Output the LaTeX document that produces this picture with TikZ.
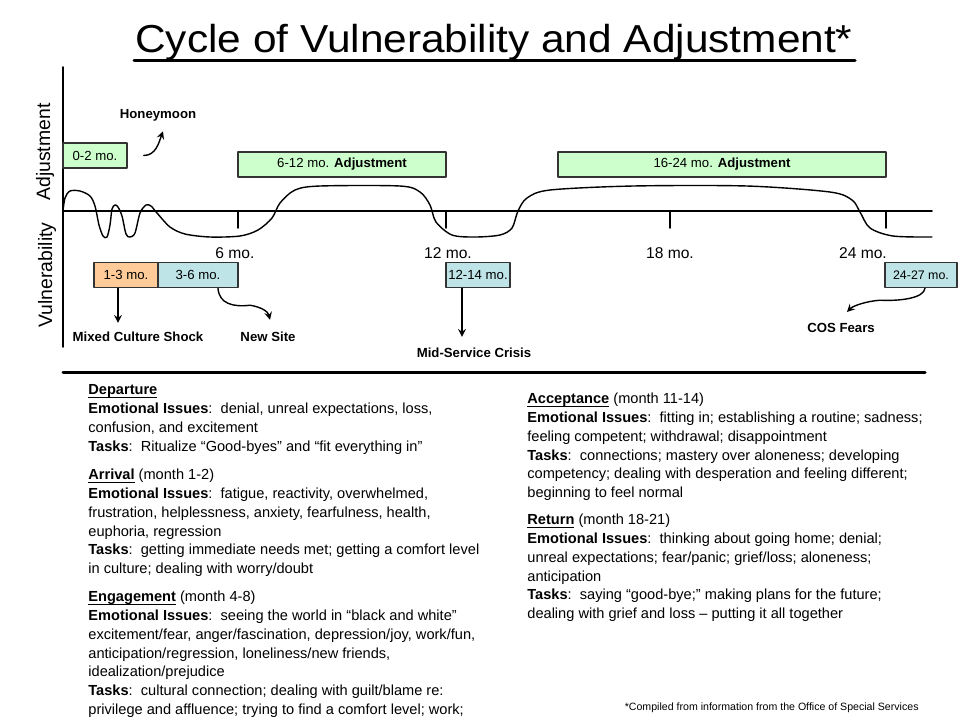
\documentclass[tikz,border=0pt]{standalone}
\usepackage{fontspec}
\setmainfont{Liberation Sans}
\usetikzlibrary{positioning}
\definecolor{adjgreen}{RGB}{204,255,204}
\definecolor{shockorange}{RGB}{255,204,153}
\definecolor{vulnblue}{RGB}{190,228,232}
\tikzset{
  mobox/.style={draw=black!80, line width=0.7pt, minimum height=12.5pt, inner sep=0pt, font=\fontsize{6.6}{7}\selectfont},
  evlabel/.style={font=\bfseries\fontsize{6.6}{7}\selectfont, inner sep=1pt},
  ticklabel/.style={font=\fontsize{7.8}{8}\selectfont},
  axislabel/.style={rotate=90, font=\fontsize{9.7}{10}\selectfont},
  stage/.style={anchor=north west, align=left, inner sep=0pt, font=\fontsize{7.3}{9.35}\selectfont}
}
\newcommand{\stagehead}[1]{\underline{\smash{\textbf{#1}}}\vphantom{(}}
\begin{document}
\begin{tikzpicture}[x=0.5pt, y=-0.5pt, line join=round, line cap=round, >=stealth]
 \useasboundingbox (0,0) rectangle (975,720);
 % title
 \node[anchor=base] (title) at (494,52) {\scalebox{1}[0.92]{\fontsize{21.2}{24}\selectfont Cycle of Vulnerability and Adjustment*}};
 \draw[line width=1.5pt] (134,60) -- (855,60);
 % axes
 \draw[line width=0.9pt] (63,67) -- (63,347);
 \draw[line width=0.9pt] (63,211) -- (932,211);
 \foreach \x/\lx/\lab in {238/235/6, 446/448/12, 670/670/18, 886/863/24}{
  \draw[line width=0.9pt] (\x,211) -- (\x,228);
  \node[ticklabel] (t\lab) at (\lx,253) {\lab\ mo.};
 }
 \node[axislabel] (adjlab) at (45,152) {Adjustment};
 \node[axislabel] (vullab) at (47,275) {Vulnerability};
 % cycle curve
 \draw[line width=0.7pt] plot[smooth, tension=0.5] coordinates {
  (63,211) (65,198) (70,191) (80,191) (90,196) (95,206) (99,225) (103,236)
  (107,237) (110,225) (112,209) (115,205) (118,207) (122,216) (126,234)
  (130,237) (135,233) (140,213) (146,205) (151,206) (157,213) (170,227)
  (185,234) (210,237) (240,236) (258,230) (272,218) (280,203) (295,190)
  (320,186) (400,186) (420,192) (430,205) (436,222) (452,235) (475,237)
  (500,235) (512,228) (518,211) (527,198) (550,190) (633,186) (747,186)
  (830,192) (852,200) (860,212) (870,228) (893,236) (932,237)};
 % month boxes
 \node[mobox, fill=adjgreen, minimum width=32pt] (zerotwo) at (95,155.5) {0-2 mo.};
 \node[mobox, fill=adjgreen, minimum width=104pt] (adjsix) at (342,164.5) {6-12 mo. \textbf{Adjustment}};
 \node[mobox, fill=adjgreen, minimum width=164pt] (adjsixteen) at (722,164.5) {16-24 mo. \textbf{Adjustment}};
 \node[mobox, fill=shockorange, minimum width=32pt] (onethree) at (126,275) {1-3 mo.};
 \node[mobox, fill=vulnblue, minimum width=40pt] (threesix) at (198,275) {3-6 mo.};
 \node[mobox, fill=vulnblue, minimum width=32pt] (twelve) at (478,275) {12-14 mo.};
 \node[mobox, fill=vulnblue, minimum width=36pt, font=\fontsize{6.2}{7}\selectfont] (twentyfour) at (921,275) {24-27 mo.};
 % event labels
 \node[evlabel] (honey) at (158,115) {Honeymoon};
 \node[evlabel] (mixed) at (138,337) {Mixed Culture Shock};
 \node[evlabel] (newsite) at (268,337) {New Site};
 \node[evlabel] (midcrisis) at (474,353) {Mid-Service Crisis};
 \node[evlabel] (cosfears) at (841,328) {COS Fears};
 \coordinate (shockfoot) at ([xshift=-4pt]onethree.south);
 \coordinate (crisisfoot) at ([xshift=-8pt]twelve.south);
 % arrows
 \draw[->, line width=0.7pt] ([xshift=8pt]zerotwo.east) to[out=0, in=-110] ([xshift=2.5pt, yshift=-4pt]honey.south);
 \draw[->, line width=0.7pt, shorten >=3.5pt] (shockfoot) -- (shockfoot |- mixed.north);
 \draw[->, line width=0.7pt] ([xshift=10pt]threesix.south) .. controls +(0.5pt,-8pt) and +(-8pt,-1pt) .. ++(16pt,-8.5pt) .. controls +(6pt,-1pt) and +(-1pt,4pt) .. ([xshift=1pt, yshift=5pt]newsite.north);
 \draw[->, line width=0.7pt, shorten >=4.5pt] (crisisfoot) -- (crisisfoot |- midcrisis.north);
 \draw[->, line width=0.7pt] ([xshift=2pt]twentyfour.south) .. controls +(-0.5pt,-5pt) and +(10pt,-0.5pt) .. ++(-22.5pt,-6pt) .. controls +(-7pt,-0.5pt) and +(3pt,3pt) .. ([xshift=3pt, yshift=4.5pt]cosfears.north);
 % separator
 \draw[line width=1.5pt] (63,372) -- (925,372);
 % stages, left column
 \node[stage] (departure) at (88,384) {\stagehead{Departure}\\
  \textbf{Emotional Issues}:\ \ denial, unreal expectations, loss,\\
  confusion, and excitement\\
  \textbf{Tasks}:\ \ Ritualize “Good-byes” and “fit everything in”};
 \node[stage] (arrival) at (88,469) {\stagehead{Arrival} (month 1-2)\\
  \textbf{Emotional Issues}:\ \ fatigue, reactivity, overwhelmed,\\
  frustration, helplessness, anxiety, fearfulness, health,\\
  euphoria, regression\\
  \textbf{Tasks}:\ \ getting immediate needs met; getting a comfort level\\
  in culture; dealing with worry/doubt};
 \node[stage] (engagement) at (88,591) {\stagehead{Engagement} (month 4-8)\\
  \textbf{Emotional Issues}:\ \ seeing the world in “black and white”\\
  excitement/fear, anger/fascination, depression/joy, work/fun,\\
  anticipation/regression, loneliness/new friends,\\
  idealization/prejudice\\
  \textbf{Tasks}:\ \ cultural connection; dealing with guilt/blame re:\\
  privilege and affluence; trying to find a comfort level; work;};
 % stages, right column
 \node[stage] (acceptance) at (527,393) {\stagehead{Acceptance} (month 11-14)\\
  \textbf{Emotional Issues}:\ \ fitting in; establishing a routine; sadness;\\
  feeling competent; withdrawal; disappointment\\
  \textbf{Tasks}:\ \ connections; mastery over aloneness; developing\\
  competency; dealing with desperation and feeling different;\\
  beginning to feel normal};
 \node[stage] (return) at (527,514) {\stagehead{Return} (month 18-21)\\
  \textbf{Emotional Issues}:\ \ thinking about going home; denial;\\
  unreal expectations; fear/panic; grief/loss; aloneness;\\
  anticipation\\
  \textbf{Tasks}:\ \ saying “good-bye;” making plans for the future;\\
  dealing with grief and loss – putting it all together};
 \node[anchor=east, inner sep=0pt, font=\fontsize{5.3}{6}\selectfont] (source) at (919,708) {*Compiled from information from the Office of Special Services};
\end{tikzpicture}
\end{document}
